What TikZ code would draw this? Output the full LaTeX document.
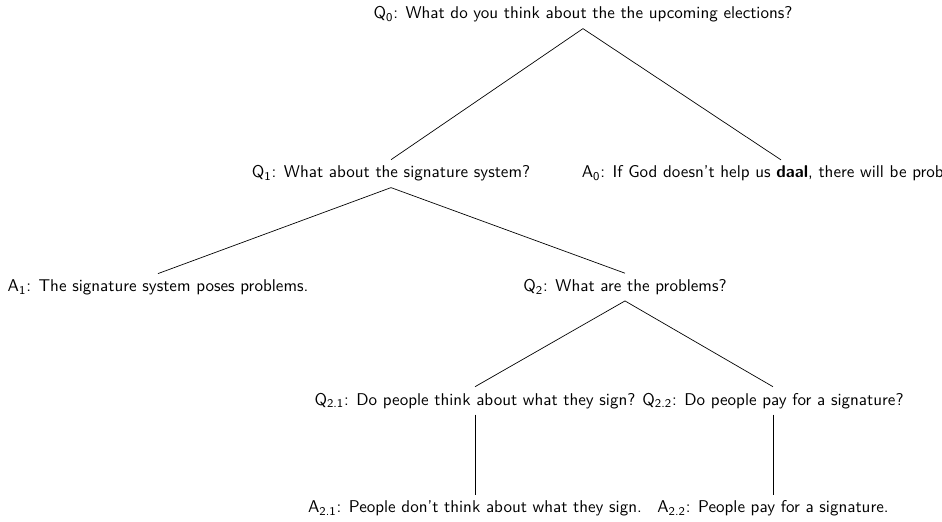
\documentclass[tikz,border=0pt]{standalone}
\usepackage{tikz}
\tikzset{
  preg/.style={font=\sffamily\fontsize{9.85pt}{12pt}\selectfont,anchor=base,inner sep=3.33pt},
  rama/.style={draw=black,line width=0.4pt},
}
\begin{document}
\begin{tikzpicture}[x=1cm,y=1cm]
  \useasboundingbox (0,0) rectangle (19.136,10.584);
  \clip (0,0) rectangle (19.136,10.584);
  % questions and answers
  \node[preg] (q0) at (11.843,10.198) {Q\textsubscript{0}: What do you think about the the upcoming elections?};
  \node[preg] (q1) at (7.943,6.968) {Q\textsubscript{1}: What about the signature system?};
  \node[preg] (a0) at (15.865,6.968) {A\textsubscript{0}: If God doesn't help us \textbf{daal}, there will be problems.};
  \node[preg] (a1) at (3.210,4.662) {A\textsubscript{1}: The signature system poses problems.};
  \node[preg] (q2) at (12.696,4.662) {Q\textsubscript{2}: What are the problems?};
  \node[preg] (q21) at (9.649,2.356) {Q\textsubscript{2.1}: Do people think about what they sign?};
  \node[preg] (q22) at (15.703,2.356) {Q\textsubscript{2.2}: Do people pay for a signature?};
  \node[preg] (a21) at (9.649,0.163) {A\textsubscript{2.1}: People don't think about what they sign.};
  \node[preg] (a22) at (15.703,0.163) {A\textsubscript{2.2}: People pay for a signature.};
  % edges
  \draw[rama] (q0.south) -- (q1.north);
  \draw[rama] (q0.south) -- (a0.north);
  \draw[rama] (q1.south) -- (a1.north);
  \draw[rama] (q1.south) -- (q2.north);
  \draw[rama] (q2.south) -- (q21.north);
  \draw[rama] (q2.south) -- (q22.north);
  \draw[rama] (q21.south) -- (a21.north);
  \draw[rama] (q22.south) -- (a22.north);
\end{tikzpicture}
\end{document}
